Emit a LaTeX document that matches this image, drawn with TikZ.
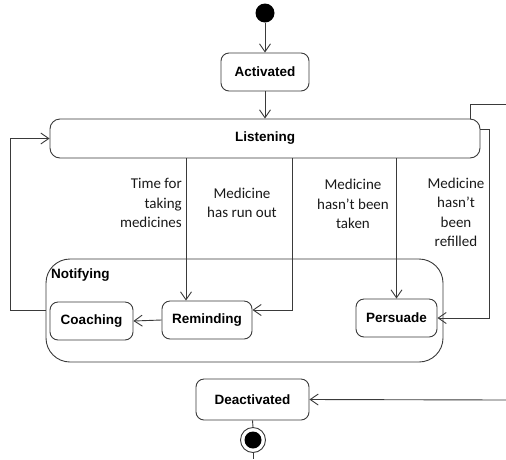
\documentclass[tikz,border=0pt]{standalone}
\usepackage{fontspec}
\setmainfont{Carlito}
\newfontfamily\statefont{Liberation Sans}
\usetikzlibrary{arrows.meta,calc}
\definecolor{ln}{HTML}{3A3A3A}
\tikzset{
  statebox/.style={draw=ln, line width=0.9pt, rounded corners=8pt, fill=white,
    font=\statefont\bfseries\fontsize{13.5}{16}\selectfont, inner sep=0pt},
  arr/.style={draw=ln, line width=0.9pt, -{Straight Barb[length=8pt,width=11pt,line width=0.9pt]}},
  plain/.style={draw=ln, line width=0.9pt},
  lbl/.style={font=\fontsize{15}{19.5}\selectfont, inner sep=0pt, text=black!90}
}
\begin{document}
\begin{tikzpicture}[x=1pt,y=-1pt]
\useasboundingbox (0,0) rectangle (506,459);
% nodes
\node[circle, fill=black, minimum size=19pt, inner sep=0pt] (init) at (265,13) {};
\node[statebox, minimum width=88pt, minimum height=38pt] (act) at (265,72) {Activated};
\node[statebox, rounded corners=10pt, minimum width=430pt, minimum height=39pt] (listen) at (265,138.5) {Listening};
\node[draw=ln, line width=0.9pt, rounded corners=24pt, minimum width=397pt, minimum height=103pt, inner sep=0pt] (notif) at (244.5,310.5) {};
\node[font=\statefont\bfseries\fontsize{13.5}{16}\selectfont, anchor=base west, inner sep=0pt] (notiflbl) at (51,278) {Notifying};
\node[statebox, minimum width=83pt, minimum height=38pt] (coach) at (91.5,321) {Coaching};
\node[statebox, minimum width=90pt, minimum height=38pt] (remind) at (207,320) {Reminding};
\node[statebox, minimum width=81pt, minimum height=38pt] (pers) at (396.5,318) {Persuade};
\node[statebox, minimum width=113pt, minimum height=41pt] (deact) at (252.5,399.5) {Deactivated};
\node[circle, draw=ln, line width=0.9pt, minimum size=25pt, inner sep=0pt, fill=white] (final) at (253,440) {};
\node[circle, fill=black, minimum size=17pt, inner sep=0pt] (finalin) at (final) {};
% labels
\node[lbl, align=right, anchor=east] (l1) at (182,203) {Time for\\taking\\medicines};
\node[lbl, align=center] (l2) at (242,203) {Medicine\\has run out};
\node[lbl, align=center] (l3) at (353,204) {Medicine\\hasn’t been\\taken};
\node[lbl, align=center] (l4) at (456,212.5) {Medicine\\hasn’t\\been\\refilled};
% coordinates
\coordinate (c2) at (292,0);
\coordinate (exitTR) at (506,104);
\coordinate (exitD) at (506,400);
\coordinate (exitB) at (253,459);
% connectors
\draw[arr] (init) -- (act);
\draw[arr] (act) -- (listen);
\draw[arr] (notif.west) -- ++(-35,0) |- (listen.west);
\draw[plain] (exitTR) -| ([xshift=-10pt]listen.north east);
\draw[arr] ([yshift=9.5pt]listen.east) -- ++(9,0) |- (pers.east);
\draw[arr] ([xshift=-21pt]remind.north |- listen.south) -- ([xshift=-21pt]remind.north);
\draw[arr] (listen.south -| c2) |- ([yshift=10pt]remind.east);
\draw[arr] (listen.south -| pers.north) -- (pers.north);
\draw[arr] (remind.west) -- (coach.east);
\draw[arr] (exitD) -- (deact.east);
\draw[plain] (deact.south) -- (final.north);
\draw[plain] (final.south) -- (exitB);
\end{tikzpicture}
\end{document}
